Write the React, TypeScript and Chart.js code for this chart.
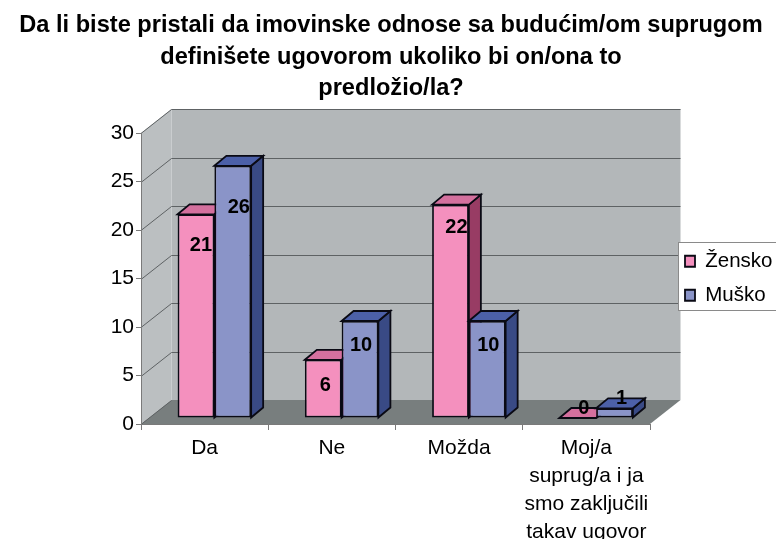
import React, { useEffect, useRef } from "react";
import { Chart, registerables } from "chart.js";

Chart.register(...registerables);

const titleLines = [
  "Da li biste pristali da imovinske odnose sa budućim/om suprugom",
  "definišete ugovorom ukoliko bi on/ona to",
  "predložio/la?",
];
const categories = ["Da", "Ne", "Možda", ["Moj/a", "suprug/a i ja", "smo zaključili", "takav ugovor"]];
const zensko = [21, 6, 22, 0];
const musko = [26, 10, 10, 1];
const yTicksMax = 30;
const yTickStep = 5;

const FONT = "'Liberation Sans', Arial, sans-serif";

// oblique projection of the 3D box
const WALL_DX = 30.5;
const WALL_DY = 24;
const BAR_SHIFT_X = 9.75;
const BAR_SHIFT_Y = -6;
const BAR_DX = 12;
const BAR_DY = 10;

// small hand placement of the value labels, relative to the top of each bar's front
const labelNudgeX = [[5, 2, 6, 6], [6, 1, 1, 7]];
const labelNudgeY = [[31, 26, 23, -10], [42, 24, 24, -10]];

const faceColors = [
  { front: "#F490BE", top: "#D4709E", side: "#983C64" },
  { front: "#8A94C8", top: "#4C60A8", side: "#394A85" },
];

function poly(ctx: CanvasRenderingContext2D, pts: number[][], fill: string | null, stroke?: string, lw = 1) {
  ctx.beginPath();
  pts.forEach((p, i) => (i ? ctx.lineTo(p[0], p[1]) : ctx.moveTo(p[0], p[1])));
  ctx.closePath();
  if (fill) {
    ctx.fillStyle = fill;
    ctx.fill();
  }
  if (stroke) {
    ctx.strokeStyle = stroke;
    ctx.lineWidth = lw;
    ctx.stroke();
  }
}

const box3d = {
  id: "box3d",
  afterLayout(chart: any) {
    const t = chart.titleBlock;
    if (t) {
      t.left = 6;
      t.right = 776;
    }
    const l = chart.legend;
    if (l) {
      l.left = 671.5;
      l.right = 776;
      l.top = 237.5;
      l.bottom = 400;
      l.adjustHitBoxes();
    }
  },
  beforeDraw(chart: any) {
    const { ctx, chartArea: a, scales } = chart;
    const L = a.left, R = a.right, T = a.top, B = a.bottom;
    ctx.save();
    ctx.fillStyle = "#fff";
    ctx.fillRect(0, 0, chart.width, chart.height);
    poly(ctx, [[L + WALL_DX, T - WALL_DY], [R + WALL_DX, T - WALL_DY], [R + WALL_DX, B - WALL_DY], [L + WALL_DX, B - WALL_DY]], "#B3B7B9");
    poly(ctx, [[L, T], [L + WALL_DX, T - WALL_DY], [L + WALL_DX, B - WALL_DY], [L, B]], "#BBBFC1");
    poly(ctx, [[L, B], [L + WALL_DX, B - WALL_DY], [R + WALL_DX, B - WALL_DY], [R, B]], "#787E7E");
    ctx.strokeStyle = "#5E6264";
    ctx.lineWidth = 1;
    scales.y.ticks.forEach((tk: any) => {
      const y = Math.round(scales.y.getPixelForValue(tk.value)) + 0.5;
      ctx.beginPath();
      ctx.moveTo(L, y);
      ctx.lineTo(L + WALL_DX, y - WALL_DY);
      if (tk.value > 0) ctx.lineTo(R + WALL_DX, y - WALL_DY);
      ctx.stroke();
    });
    // legend frame
    ctx.fillStyle = "#fff";
    ctx.fillRect(678.5, 242.5, 100, 68);
    ctx.strokeStyle = "#8A8A8A";
    ctx.strokeRect(678.5, 242.5, 100, 68);
    ctx.restore();
  },
  beforeDatasetDraw() {
    return false;
  },
  afterDatasetsDraw(chart: any) {
    const { ctx } = chart;
    ctx.save();
    ctx.translate(BAR_SHIFT_X, BAR_SHIFT_Y);
    [0, 1].forEach((ds) => {
      const c = faceColors[ds];
      chart.getDatasetMeta(ds).data.forEach((el: any) => {
        const x0 = el.x - el.width / 2, x1 = el.x + el.width / 2;
        const yt = el.y, yb = el.base;
        poly(ctx, [[x1, yt], [x1 + BAR_DX, yt - BAR_DY], [x1 + BAR_DX, yb - BAR_DY], [x1, yb]], c.side, "#0A0A14", 1.8);
        poly(ctx, [[x0, yt], [x0 + BAR_DX, yt - BAR_DY], [x1 + BAR_DX, yt - BAR_DY], [x1, yt]], c.top, "#0A0A14", 1.8);
        if (yb - yt > 0.5) el.draw(ctx);
      });
    });
    ctx.fillStyle = "#000";
    ctx.font = `bold 20px ${FONT}`;
    ctx.textAlign = "center";
    ctx.textBaseline = "middle";
    [0, 1].forEach((ds) => {
      chart.getDatasetMeta(ds).data.forEach((el: any, i: number) => {
        ctx.fillText(String(chart.data.datasets[ds].data[i]), el.x + labelNudgeX[ds][i], el.y + labelNudgeY[ds][i]);
      });
    });
    ctx.restore();
  },
};

export default function App() {
  const ref = useRef<HTMLCanvasElement>(null);
  useEffect(() => {
    const chart = new Chart(ref.current as HTMLCanvasElement, {
      type: "bar",
      data: {
        labels: categories as any,
        datasets: [
          { label: "Žensko", data: zensko, backgroundColor: faceColors[0].front, borderColor: "#0A0A14", borderWidth: 1.8, borderSkipped: false, clip: false as any },
          { label: "Muško", data: musko, backgroundColor: faceColors[1].front, borderColor: "#0A0A14", borderWidth: 1.8, borderSkipped: false, clip: false as any },
        ],
      },
      options: {
        responsive: false,
        animation: false,
        devicePixelRatio: 1,
        layout: { padding: { left: 0, right: 126, top: 0, bottom: 0 }, autoPadding: false },
        datasets: { bar: { categoryPercentage: 0.578, barPercentage: 1 } },
        scales: {
          x: {
            grid: { drawOnChartArea: false, drawTicks: true, tickLength: 6, color: "#7A7A7A", offset: true },
            border: { color: "#7A7A7A", width: 1 },
            ticks: { color: "#000", font: { family: FONT, size: 21, lineHeight: 1.33 }, maxRotation: 0, minRotation: 0, autoSkip: false, padding: 4 },
            afterFit: (s: any) => {
              s.height = 115;
            },
          },
          y: {
            min: 0,
            max: yTicksMax,
            grid: { drawOnChartArea: false, drawTicks: true, tickLength: 5, color: "#7A7A7A" },
            border: { color: "#7A7A7A", width: 1 },
            ticks: { stepSize: yTickStep, color: "#000", font: { family: FONT, size: 21 }, padding: 2 },
            afterFit: (s: any) => {
              s.width = 141;
            },
          },
        },
        plugins: {
          tooltip: { enabled: false },
          title: {
            display: true,
            text: titleLines,
            color: "#000",
            font: { family: FONT, size: 23.6, weight: "bold", lineHeight: 1.335 },
            padding: { top: 10, bottom: 28.5 },
          },
          legend: {
            display: true,
            position: "chartArea" as any,
            align: "start",
            labels: { boxWidth: 10, boxHeight: 11, padding: 13.5, color: "#000", font: { family: FONT, size: 20.5 } },
          },
        },
      },
      plugins: [box3d as any],
    });
    return () => chart.destroy();
  }, []);
  return (
    <div style={{ position: "absolute", left: 0, top: 0, width: 776, height: 539, overflow: "hidden", background: "#fff" }}>
      <canvas ref={ref} width={776} height={539} style={{ display: "block" }} />
    </div>
  );
}
